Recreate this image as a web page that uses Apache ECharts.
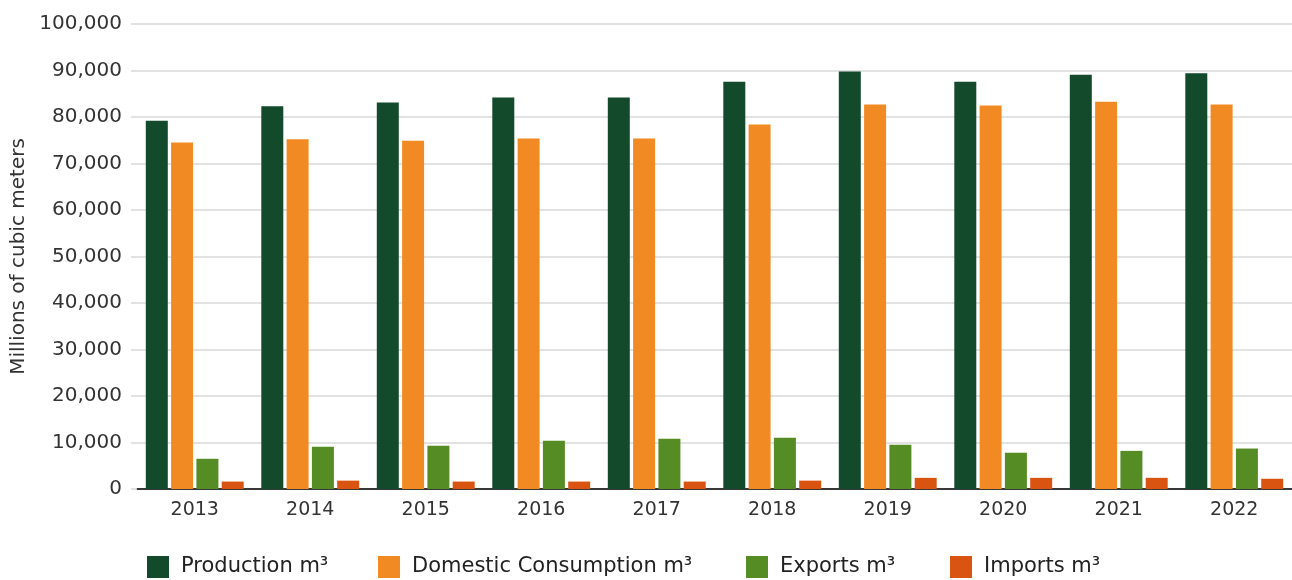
<!DOCTYPE html>
<html>
<head>
<meta charset="utf-8">
<script src="https://cdn.jsdelivr.net/npm/echarts@6/dist/echarts.min.js"></script>
<style>html,body{margin:0;padding:0;background:#fff}#c{width:1292px;height:580px}</style>
</head>
<body>
<div id="c"></div>
<script>
const years = ['2013','2014','2015','2016','2017','2018','2019','2020','2021','2022'];
const production = [79200, 82300, 83100, 84200, 84200, 87600, 89800, 87600, 89100, 89400];
const consumption = [74500, 75200, 74900, 75400, 75400, 78400, 82700, 82500, 83300, 82700];
const exportsM3 = [6500, 9100, 9300, 10400, 10800, 11000, 9500, 7800, 8200, 8700];
const importsM3 = [1600, 1800, 1600, 1600, 1600, 1800, 2400, 2400, 2400, 2200];
const seriesNames = ['Production m³', 'Domestic Consumption m³', 'Exports m³', 'Imports m³'];
const colors = ['#134a2c', '#f28a24', '#568c24', '#d95411'];
const yTicks = {min: 0, max: 100000, interval: 10000};

const font = 'DejaVu Sans';
const chart = echarts.init(document.getElementById('c'), null, {renderer: 'canvas'});
const legendLefts = [142, 373, 741, 945];
const dataSets = [production, consumption, exportsM3, importsM3];

chart.setOption({
  animation: false,
  textStyle: {fontFamily: font},
  grid: {left: 137, right: -5, top: 24, bottom: 91, containLabel: false},
  legend: seriesNames.map((n, i) => ({
    data: [n], left: legendLefts[i], top: 551, itemWidth: 22, itemHeight: 22, icon: 'rect',
    textStyle: {fontFamily: font, fontSize: 21, color: '#222', padding: [0, 0, 0, 7]}
  })),
  xAxis: {
    type: 'category', data: years,
    axisLine: {lineStyle: {color: '#000', width: 1.5}},
    axisTick: {show: false},
    axisLabel: {fontFamily: font, fontSize: 19, color: '#333', margin: 12}
  },
  yAxis: {
    type: 'value', min: yTicks.min, max: yTicks.max, interval: yTicks.interval,
    name: 'Millions of cubic meters', nameLocation: 'middle', nameGap: 108,
    nameTextStyle: {fontFamily: font, fontSize: 20, color: '#333'},
    axisLine: {show: false},
    axisTick: {show: true, length: 6, lineStyle: {color: '#d9d9d9', width: 1.5}},
    splitLine: {lineStyle: {color: '#d9d9d9', width: 1.5}},
    axisLabel: {fontFamily: font, fontSize: 20, color: '#333', margin: 15,
      formatter: v => v.toLocaleString('en-US')}
  },
  series: seriesNames.map((n, i) => ({
    name: n, type: 'bar', data: dataSets[i], barWidth: 22, barGap: '15%',
    itemStyle: {color: colors[i]}
  }))
});
</script>
</body>
</html>
